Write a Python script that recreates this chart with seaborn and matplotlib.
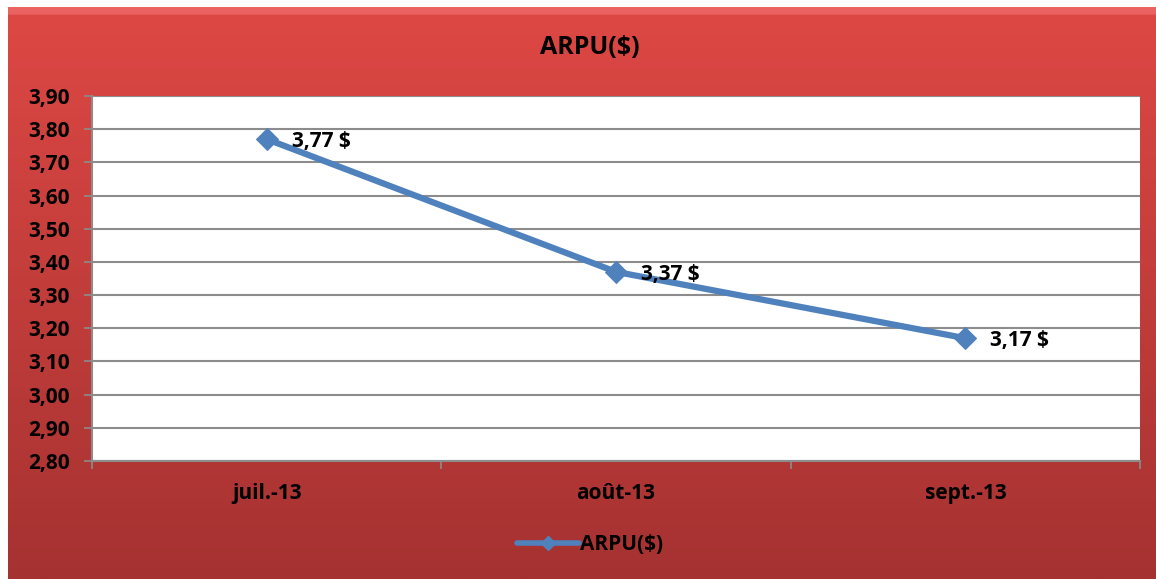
import numpy as np
import pandas as pd
import matplotlib
matplotlib.use("Agg")
import matplotlib.pyplot as plt
from matplotlib.lines import Line2D
import seaborn as sns

months = ["juil.-13", "août-13", "sept.-13"]
arpu = [3.77, 3.37, 3.17]
point_labels = ["3,77 $", "3,37 $", "3,17 $"]
y_ticks = [2.80, 2.90, 3.00, 3.10, 3.20, 3.30, 3.40, 3.50, 3.60, 3.70, 3.80, 3.90]
y_tick_labels = ["2,80", "2,90", "3,00", "3,10", "3,20", "3,30", "3,40", "3,50", "3,60", "3,70", "3,80", "3,90"]

sns.set_style("white")
plt.rcParams["font.family"] = ["Open Sans", "DejaVu Sans"]
plt.rcParams["font.weight"] = "bold"
plt.rcParams["text.color"] = "black"

W, H = 1156, 579
fig = plt.figure(figsize=(W / 100, H / 100), dpi=100)
fig.patch.set_facecolor("white")

# red gradient frame behind the chart
bg = fig.add_axes([8 / W, 0, 1 - 8 / W, 1 - 7 / H])
top = np.array([222, 72, 68]) / 255
bot = np.array([165, 50, 49]) / 255
t = np.linspace(0, 1, 300)[:, None]
grad = (top * (1 - t) + bot * t)[:, None, :]
grad = np.repeat(grad, 2, axis=1)
grad[:4] = grad[:4] * 0.6 + 0.4 * np.array([1.0, 0.55, 0.55])
bg.imshow(grad, aspect="auto", extent=[0, 1, 0, 1])
bg.axis("off")

ax = fig.add_axes([92 / W, 1 - 461 / H, (1140 - 92) / W, (461 - 96) / H])
ax.set_facecolor("white")
df = pd.DataFrame({"pos": range(len(months)), "ARPU($)": arpu})
sns.lineplot(data=df, x="pos", y="ARPU($)", ax=ax, color="#4F81BD", linewidth=4.5,
             marker="D", markersize=11, markeredgecolor="#4F81BD", legend=False)

for x, y, s in zip(df["pos"], arpu, point_labels):
    ax.annotate(s, (x, y), xytext=(18, 0), textcoords="offset points",
                ha="left", va="center_baseline", fontsize=15, fontweight="bold", color="black")

ax.set_xlim(-0.5, 2.5)
ax.set_ylim(2.8, 3.9)
ax.set_yticks(y_ticks)
ax.set_yticklabels(y_tick_labels)
ax.set_xticks(range(len(months)))
ax.set_xticklabels(months)
ax.set_xticks([-0.5, 0.5, 1.5, 2.5], minor=True)
ax.yaxis.grid(True, color="#8C8C8C", linewidth=1.5)
ax.set_axisbelow(True)
ax.set_xlabel("")
ax.set_ylabel("")
for side in ["top", "right"]:
    ax.spines[side].set_visible(False)
for side in ["left", "bottom"]:
    ax.spines[side].set_color("#8C8C8C")
    ax.spines[side].set_linewidth(1.5)
ax.tick_params(axis="y", which="major", direction="out", length=6, width=1.2, color="#8C8C8C",
               labelsize=15, labelcolor="black", pad=10, left=True)
ax.tick_params(axis="x", which="major", length=0, labelsize=15, labelcolor="black", pad=16)
ax.tick_params(axis="x", which="minor", direction="out", length=6, width=1.2, color="#8C8C8C", bottom=True)
for lab in ax.get_xticklabels() + ax.get_yticklabels():
    lab.set_fontweight("bold")

handle = Line2D([], [], color="#4F81BD", linewidth=4, marker="D", markersize=7)
fig.legend([handle], ["ARPU($)"], loc="center", bbox_to_anchor=(590 / W, 1 - 545 / H), frameon=False,
           handlelength=3.0, handletextpad=0.05, labelcolor="black", prop={"size": 15, "weight": "bold"})

fig.text(590 / W, 1 - 47 / H, "ARPU($)", ha="center", va="center", fontsize=18, fontweight="bold", color="black")

fig.savefig("out.png", dpi=100)
